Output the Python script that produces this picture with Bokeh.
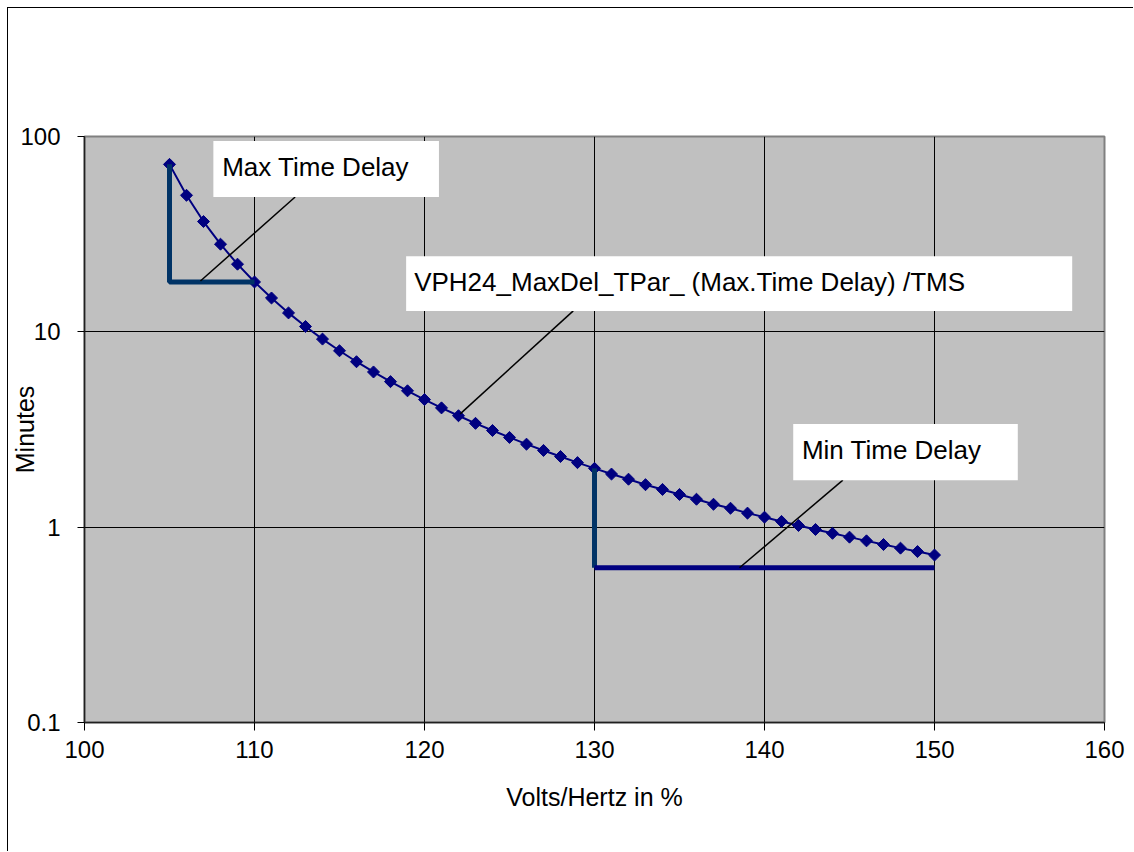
import math
from bokeh.plotting import figure
from bokeh.models import FixedTicker, CustomJSTickFormatter, Label
from bokeh.embed import file_html
from bokeh.resources import INLINE

# ---- data ----
volts_hertz = [105, 106, 107, 108, 109, 110, 111, 112, 113, 114, 115, 116, 117, 118, 119,
               120, 121, 122, 123, 124, 125, 126, 127, 128, 129, 130, 131, 132, 133, 134,
               135, 136, 137, 138, 139, 140, 141, 142, 143, 144, 145, 146, 147, 148, 149, 150]
minutes = [72, 50, 36.7, 28.1, 22.2, 18, 14.9, 12.5, 10.65, 9.18, 8.0, 7.03, 6.23, 5.56, 4.99,
           4.5, 4.08, 3.72, 3.40, 3.125, 2.88, 2.66, 2.47, 2.30, 2.14, 2.0, 1.87, 1.76, 1.65, 1.56,
           1.47, 1.39, 1.31, 1.25, 1.18, 1.125, 1.07, 1.02, 0.973, 0.930, 0.889, 0.851, 0.815, 0.781, 0.750, 0.72]

max_bracket_x = [105, 105, 110]
max_bracket_y = [72, 18, 18]
min_vert_x = [130, 130]
min_vert_y = [2.0, 0.62]
min_horiz_x = [130, 150]
min_horiz_y = [0.62, 0.62]

x_ticks = [100, 110, 120, 130, 140, 150, 160]
y_ticks = [0.1, 1, 10, 100]

callout_texts = ["Max Time Delay", "VPH24_MaxDel_TPar_ (Max.Time Delay) /TMS", "Min Time Delay"]
callout_box_left = [107.58, 118.92, 141.69]
callout_box_right = [120.85, 158.1, 154.9]
callout_box_top = [94.8, 24.4, 3.37]
callout_box_bottom = [49.0, 12.8, 1.74]
callout_text_x = [108.1, 119.39, 142.2]
callout_text_y = [69.8, 18.0, 2.48]
leader_x0 = [106.82, 122.1, 138.53]
leader_y0 = [18.2, 3.8, 0.62]
leader_x1 = [112.39, 128.75, 144.61]
leader_y1 = [49.0, 12.8, 1.74]

FONT = "Liberation Sans"

p = figure(width=1126, height=844, x_range=(100, 160), y_range=(0.1, 100),
           y_axis_type="log", output_backend="svg", toolbar_location=None,
           background_fill_color="#C0C0C0", border_fill_color="white",
           min_border_left=75, min_border_right=30, min_border_top=128, min_border_bottom=130)
p.styles = {"margin-left": "7px", "margin-top": "7px",
            "border-left": "1px solid #000000", "border-top": "1px solid #000000"}

p.outline_line_color = "#808080"
p.outline_line_width = 2

# axes
p.xaxis.ticker = FixedTicker(ticks=x_ticks)
p.yaxis.ticker = FixedTicker(ticks=y_ticks)
p.yaxis.formatter = CustomJSTickFormatter(code="return tick.toString();")
for ax in (p.xaxis[0], p.yaxis[0]):
    ax.axis_line_color = "#202020"
    ax.axis_line_width = 1.5
    ax.major_tick_line_color = "black"
    ax.major_tick_in = 0
    ax.minor_tick_line_color = None
    ax.major_label_text_font = FONT
    ax.major_label_text_font_size = "24px"
    ax.major_label_text_color = "black"
    ax.axis_label_text_font = FONT
    ax.axis_label_text_font_size = "25px"
    ax.axis_label_text_font_style = "normal"
    ax.axis_label_text_color = "black"
p.xaxis.major_tick_out = 8
p.xaxis.major_label_standoff = 10
p.xaxis.axis_label = "Volts/Hertz in %"
p.xaxis.axis_label_standoff = 22
p.yaxis.major_tick_out = 7
p.yaxis.major_label_standoff = 17
p.yaxis.axis_label = "Minutes"
p.yaxis.axis_label_standoff = -22

p.xgrid.grid_line_color = "black"
p.xgrid.grid_line_width = 1
p.ygrid.grid_line_color = "black"
p.ygrid.grid_line_width = 1

# series
p.line(volts_hertz, minutes, line_color="#000080", line_width=2)
p.scatter(volts_hertz, minutes, marker="square", size=8.5, angle=math.pi / 4,
          fill_color="#000080", line_color="#000080")

# brackets
p.line(max_bracket_x, max_bracket_y, line_color="#003366", line_width=5)
p.line(min_vert_x, min_vert_y, line_color="#003366", line_width=5)
p.line(min_horiz_x, min_horiz_y, line_color="#000080", line_width=5)

# callouts
p.segment(leader_x0, leader_y0, leader_x1, leader_y1, line_color="black", line_width=1.5)
p.quad(left=callout_box_left, right=callout_box_right, top=callout_box_top,
       bottom=callout_box_bottom, fill_color="white", line_color=None)
for t, tx, ty in zip(callout_texts, callout_text_x, callout_text_y):
    p.add_layout(Label(x=tx, y=ty, text=t, text_font=FONT, text_font_size="26px",
                       text_color="black", text_baseline="middle", text_align="left"))

open("out.html", "w").write(file_html(p, INLINE))
